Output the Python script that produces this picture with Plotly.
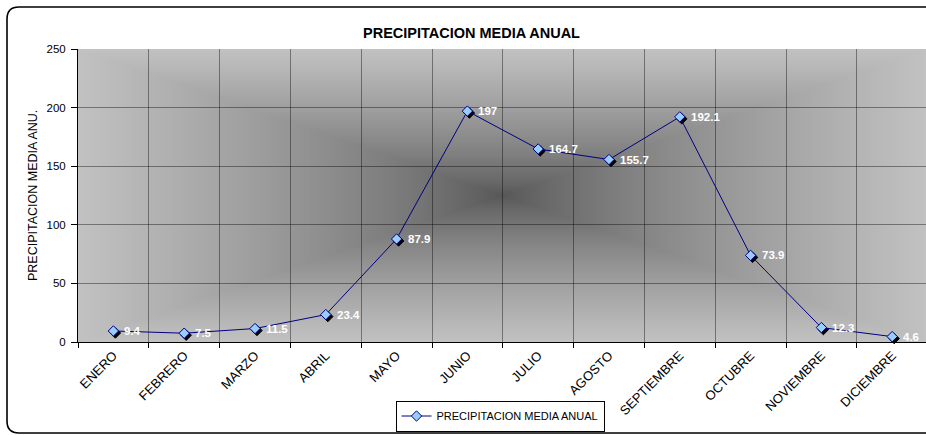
import base64
import struct
import zlib

import numpy as np
import plotly.graph_objects as go

# ---- data -------------------------------------------------------------
months = ["ENERO", "FEBRERO", "MARZO", "ABRIL", "MAYO", "JUNIO", "JULIO",
          "AGOSTO", "SEPTIEMBRE", "OCTUBRE", "NOVIEMBRE", "DICIEMBRE"]
precip = [9.4, 7.5, 11.5, 23.4, 87.9, 197, 164.7, 155.7, 192.1, 73.9, 12.3, 4.6]
y_ticks = [0, 50, 100, 150, 200, 250]

series_name = "PRECIPITACION MEDIA ANUAL"
chart_title = "PRECIPITACION MEDIA ANUAL"
y_title = "PRECIPITACION MEDIA ANU."

# ---- geometry ---------------------------------------------------------
W, H = 926, 435
M_L, M_R, M_T, M_B = 78, 0, 49, 93
PW = W - M_L - M_R
PH = H - M_T - M_B
X_MIN = -0.5
CAT_W = 70.8                      # pixels per category
X_MAX = X_MIN + PW / CAT_W
Y_MIN, Y_MAX = 0, 250
Y_SCALE = PH / (Y_MAX - Y_MIN)
SHADOW = 2                        # marker shadow offset, px

FONT = "Arial, Liberation Sans, sans-serif"


def px_x(px):
    return (px - M_L) / PW


def px_y(py):
    return (H - M_B - py) / PH


# ---- "from centre" grey gradient for the plot area -------------------
def gradient_png(w=300, h=150, c_center=86, c_edge=194, gamma=0.75):
    u = np.abs(np.linspace(-1, 1, w))[None, :]
    v = np.abs(np.linspace(-1, 1, h))[:, None]
    d = np.maximum(u, v) ** gamma
    img = (c_center + (c_edge - c_center) * d).astype(np.uint8)
    raw = b"".join(b"\x00" + row.tobytes() for row in img)

    def chunk(tag, data):
        c = struct.pack(">I", len(data)) + tag + data
        return c + struct.pack(">I", zlib.crc32(tag + data) & 0xFFFFFFFF)

    png = b"\x89PNG\r\n\x1a\n"
    png += chunk(b"IHDR", struct.pack(">IIBBBBB", w, h, 8, 0, 0, 0, 0))
    png += chunk(b"IDAT", zlib.compress(raw, 9))
    png += chunk(b"IEND", b"")
    return "data:image/png;base64," + base64.b64encode(png).decode()


fig = go.Figure()

# placeholder on the base axes so they are drawn first (grid underneath)
fig.add_trace(go.Scatter(x=[months[0]], y=[None], xaxis="x", yaxis="y",
                         showlegend=False, hoverinfo="skip"))

# marker shadows on an axis pair shifted by a couple of pixels
fig.add_trace(go.Scatter(
    x=list(range(len(months))), y=precip, xaxis="x2", yaxis="y2",
    mode="markers", showlegend=False, hoverinfo="skip", cliponaxis=False,
    marker=dict(symbol="diamond", size=8, color="black",
                line=dict(color="black", width=1)),
))

# the series itself
fig.add_trace(go.Scatter(
    x=list(range(len(months))), y=precip, xaxis="x3", yaxis="y3",
    mode="lines+markers", name=series_name, cliponaxis=False,
    line=dict(color="#000080", width=1),
    marker=dict(symbol="diamond", size=8, color="#99CCFF",
                line=dict(color="#000080", width=1)),
))

# value labels
annotations = [
    dict(x=i, y=v, xref="x3", yref="y3", text=f"{v:g}", showarrow=False,
         xanchor="left", yanchor="middle", xshift=9,
         font=dict(family=FONT, size=11.5, color="white", weight="bold"))
    for i, v in enumerate(precip)
]
annotations.append(dict(
    x=px_x(471.7), y=px_y(33), xref="paper", yref="paper", text=chart_title,
    showarrow=False, xanchor="center", yanchor="middle",
    font=dict(family=FONT, size=14.5, color="black", weight="bold")))
annotations.append(dict(
    x=px_x(32.5), y=0.5, xref="paper", yref="paper", text=y_title,
    showarrow=False, textangle=-90, xanchor="center", yanchor="middle",
    font=dict(family=FONT, size=12.5, color="black")))

# rounded chart border
L, T, B, R, r = 7, 7, 433, 950, 12
border = (f"M {px_x(L)},{px_y(T + r)} Q {px_x(L)},{px_y(T)} {px_x(L + r)},{px_y(T)} "
          f"L {px_x(R - r)},{px_y(T)} Q {px_x(R)},{px_y(T)} {px_x(R)},{px_y(T + r)} "
          f"L {px_x(R)},{px_y(B - r)} Q {px_x(R)},{px_y(B)} {px_x(R - r)},{px_y(B)} "
          f"L {px_x(L + r)},{px_y(B)} Q {px_x(L)},{px_y(B)} {px_x(L)},{px_y(B - r)} Z")

hidden = dict(visible=False, showgrid=False, zeroline=False)

fig.update_layout(
    width=W, height=H,
    margin=dict(l=M_L, r=M_R, t=M_T, b=M_B, pad=0),
    paper_bgcolor="white", plot_bgcolor="rgba(0,0,0,0)",
    font=dict(family=FONT, size=11, color="black"),
    xaxis=dict(type="category", categoryarray=months, range=[X_MIN, X_MAX],
               tickson="boundaries", showgrid=True, gridcolor="rgba(0,0,0,0.4)",
               gridwidth=1, showline=True, linecolor="black", linewidth=1,
               ticks="outside", ticklen=5, tickcolor="black", tickangle=-45,
               tickfont=dict(family=FONT, size=13), zeroline=False,
               anchor="y", domain=[0, 1], fixedrange=True),
    yaxis=dict(range=[Y_MIN, Y_MAX], tickvals=y_ticks, showgrid=True,
               gridcolor="rgba(0,0,0,0.4)", gridwidth=1, showline=True,
               linecolor="black", linewidth=1, ticks="outside", ticklen=6,
               tickcolor="black", tickfont=dict(family=FONT, size=11.5),
               ticklabelstandoff=3,
               zeroline=False, anchor="x", domain=[0, 1], fixedrange=True),
    xaxis2=dict(hidden, range=[X_MIN, X_MAX - SHADOW / CAT_W], anchor="y2",
                domain=[SHADOW / PW, 1]),
    yaxis2=dict(hidden, range=[Y_MIN + SHADOW / Y_SCALE, Y_MAX], anchor="x2",
                domain=[0, 1 - SHADOW / PH]),
    xaxis3=dict(hidden, range=[X_MIN, X_MAX], anchor="y3", domain=[0, 1]),
    yaxis3=dict(hidden, range=[Y_MIN, Y_MAX], anchor="x3", domain=[0, 1]),
    images=[dict(source=gradient_png(), xref="paper", yref="paper", x=0, y=1,
                 sizex=1, sizey=1, sizing="stretch",
                 xanchor="left", yanchor="top", layer="below")],
    shapes=[dict(type="path", path=border, xref="paper", yref="paper",
                 line=dict(color="black", width=1.6), layer="above")],
    annotations=annotations,
    showlegend=True,
    legend=dict(orientation="h", x=px_x(500), y=px_y(416), xanchor="center",
                yanchor="middle", bgcolor="white", bordercolor="black",
                borderwidth=1, font=dict(family=FONT, size=11),
                itemwidth=30),
)

fig.write_html("out.html")
